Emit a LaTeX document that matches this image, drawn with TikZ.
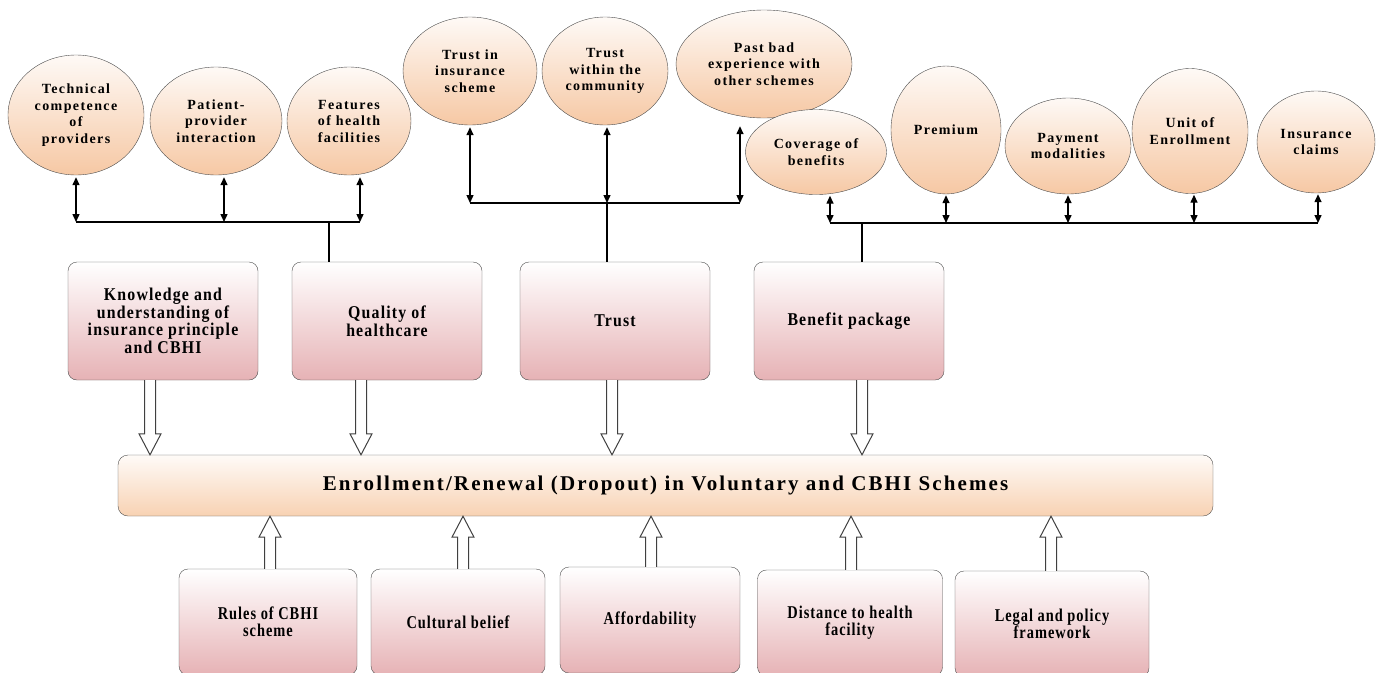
\documentclass[tikz,border=0pt]{standalone}
\usepackage{fontspec}
\newfontfamily\ovalfont{Liberation Serif}[LetterSpace=10]
\newfontfamily\boxfont{Liberation Serif}[LetterSpace=6.5, FakeStretch=0.88]
\newfontfamily\lowfont{Liberation Serif}[LetterSpace=5.5, FakeStretch=0.8]
\newfontfamily\barfont{Liberation Serif}[LetterSpace=10]
\usetikzlibrary{shapes.geometric, arrows.meta, calc, positioning}
\definecolor{peach}{HTML}{F6C8A4}
\definecolor{rose}{HTML}{E6B2B5}
\definecolor{barpeach}{HTML}{F8D2B3}
\tikzset{
>={Triangle[length=8pt, width=7pt]}, % small solid heads on the thin links
factor/.style={ellipse, draw=black!70, top color=peach!10, bottom color=peach, inner xsep=-10pt, inner ysep=0pt, align=center, font=\ovalfont\bfseries\fontsize{14}{16.5}\selectfont}, % the oval sub-factors
block/.style={draw=black!70, rounded corners=9pt, top color=white, bottom color=rose, align=center, minimum width=190pt, minimum height=118pt, font=\boxfont\bfseries\fontsize{18}{17.5}\selectfont}, % the main determinants
lower/.style={block, minimum height=106pt, font=\lowfont\bfseries\fontsize{18}{17}\selectfont}, % the bottom row
outcome/.style={draw=black!70, rounded corners=10pt, top color=barpeach!10, bottom color=barpeach, minimum width=1095pt, minimum height=61pt, font=\barfont\bfseries\fontsize{21}{23}\selectfont}, % the long bar
link/.style={<->, line width=1.4pt}, % two-way links to the ovals
bus/.style={line width=1.4pt},
hollow/.style={draw=black!75, fill=white, line width=1pt, to path={
  ($(\tikztostart)+(-5.5pt,0)$) -- ($(\tikztotarget)!21pt!(\tikztostart)+(-5.5pt,0)$)
  -- ($(\tikztotarget)!21pt!(\tikztostart)+(-11pt,0)$) -- (\tikztotarget)
  -- ($(\tikztotarget)!21pt!(\tikztostart)+(11pt,0)$) -- ($(\tikztotarget)!21pt!(\tikztostart)+(5.5pt,0)$)
  -- ($(\tikztostart)+(5.5pt,0)$)}}, % open block arrows
}

\begin{document}
\begin{tikzpicture}[x=1pt, y=-1pt]
    \useasboundingbox (0,0) rectangle (1383,672);

    % ovals
    \node[factor, minimum width=136pt, minimum height=120pt] (tcp) at (76,115) {Technical\\competence\\of\\providers};
    \node[factor, minimum width=132pt, minimum height=108pt] (ppi) at (216,121) {Patient-\\provider\\interaction};
    \node[factor, minimum width=124pt, minimum height=108pt] (fhf) at (349,121) {Features\\of health\\facilities};
    \node[factor, minimum width=134pt, minimum height=108pt] (tis) at (470,71) {Trust in\\insurance\\scheme};
    \node[factor, minimum width=126pt, minimum height=108pt] (twc) at (605,71) {Trust\\within the\\community};
    \node[factor, minimum width=176pt, minimum height=108pt] (pbe) at (764,64) {Past bad\\experience with\\other schemes};
    \node[factor, minimum width=141pt, minimum height=85pt] (cob) at (816,152) {Coverage of\\benefits};
    \node[factor, minimum width=110pt, minimum height=128pt] (prem) at (946,130) {Premium};
    \node[factor, minimum width=126pt, minimum height=96pt] (paym) at (1068,146) {Payment\\modalities};
    \node[factor, minimum width=116pt, minimum height=125pt] (unit) at (1190,131) {Unit of\\Enrollment};
    \node[factor, minimum width=118pt, minimum height=102pt] (claims) at (1316,142) {Insurance\\claims};

    % determinants
    \node[block] (know) at (163,321) {Knowledge and\\understanding of\\insurance principle\\and CBHI};
    \node[block] (qual) at (387,321) {Quality of\\healthcare};
    \node[block] (trust) at (615,321) {Trust};
    \node[block] (benefit) at (849,321) {Benefit package};

    \node[outcome] (enrol) at (665.5,485.5) {Enrollment/Renewal (Dropout) in Voluntary and CBHI Schemes};

    \node[lower, minimum width=178pt] (rules) at (268,622) {Rules of CBHI\\scheme};
    \node[lower, minimum width=174pt] (culture) at (458,622) {Cultural belief};
    \node[lower, minimum width=180pt] (afford) at (650,620) {Affordability};
    \node[lower, minimum width=185pt] (dist) at (850,623) {Distance to health\\facility};
    \node[lower, minimum width=194pt] (legal) at (1052,624) {Legal and policy\\framework};

    % buses
    \coordinate (b1) at (329,222);
    \coordinate (b2) at (607,203);
    \coordinate (b3) at (862,223);

    \draw[link, shorten <=2pt] (tcp.south) -- (tcp.south |- b1);
    \draw[link, shorten <=2pt] ([xshift=8pt]ppi.south) -- ([xshift=8pt]ppi.south |- b1);
    \draw[link, shorten <=2pt] ([xshift=11pt]fhf.south) -- ([xshift=11pt]fhf.south |- b1);
    \draw[bus] (tcp.south |- b1) -- ([xshift=11pt]fhf.south |- b1);
    \draw[bus] (b1) -- (b1 |- qual.north);

    \draw[link, shorten <=2pt] (tis.south) -- (tis.south |- b2);
    \draw[link, shorten <=2pt] ([xshift=2pt]twc.south) -- ([xshift=2pt]twc.south |- b2);
    \draw[link, shorten <=8pt] ([xshift=-24pt]pbe.south) -- ([xshift=-24pt]pbe.south |- b2);
    \draw[bus] (tis.south |- b2) -- ([xshift=-24pt]pbe.south |- b2);
    \draw[bus] (b2) -- (b2 |- trust.north);

    \draw[link, shorten <=1pt] ([xshift=14pt]cob.south) -- ([xshift=14pt]cob.south |- b3);
    \draw[link, shorten <=1pt] (prem.south) -- (prem.south |- b3);
    \draw[link, shorten <=1pt] (paym.south) -- (paym.south |- b3);
    \draw[link, shorten <=1pt] ([xshift=4pt]unit.south) -- ([xshift=4pt]unit.south |- b3);
    \draw[link, shorten <=1pt] ([xshift=2pt]claims.south) -- ([xshift=2pt]claims.south |- b3);
    \draw[bus] ([xshift=14pt]cob.south |- b3) -- ([xshift=2pt]claims.south |- b3);
    \draw[bus] (b3) -- (b3 |- benefit.north);

    % block arrows into the bar
    \coordinate (k1) at ([xshift=-13pt]know.south);
    \coordinate (q1) at ([xshift=-26pt]qual.south);
    \coordinate (t1) at ([xshift=-3pt]trust.south);
    \coordinate (p1) at ([xshift=13pt]benefit.south);
    \draw[hollow] (k1) to (k1 |- enrol.north);
    \draw[hollow] (q1) to (q1 |- enrol.north);
    \draw[hollow] (t1) to (t1 |- enrol.north);
    \draw[hollow] (p1) to (p1 |- enrol.north);

    \draw[hollow] ([xshift=2pt]rules.north) to ([xshift=2pt]rules.north |- enrol.south);
    \draw[hollow] ([xshift=5pt]culture.north) to ([xshift=5pt]culture.north |- enrol.south);
    \draw[hollow] ([xshift=1pt]afford.north) to ([xshift=1pt]afford.north |- enrol.south);
    \draw[hollow] ([xshift=1pt]dist.north) to ([xshift=1pt]dist.north |- enrol.south);
    \draw[hollow] ([xshift=-1pt]legal.north) to ([xshift=-1pt]legal.north |- enrol.south);
\end{tikzpicture}
\end{document}
